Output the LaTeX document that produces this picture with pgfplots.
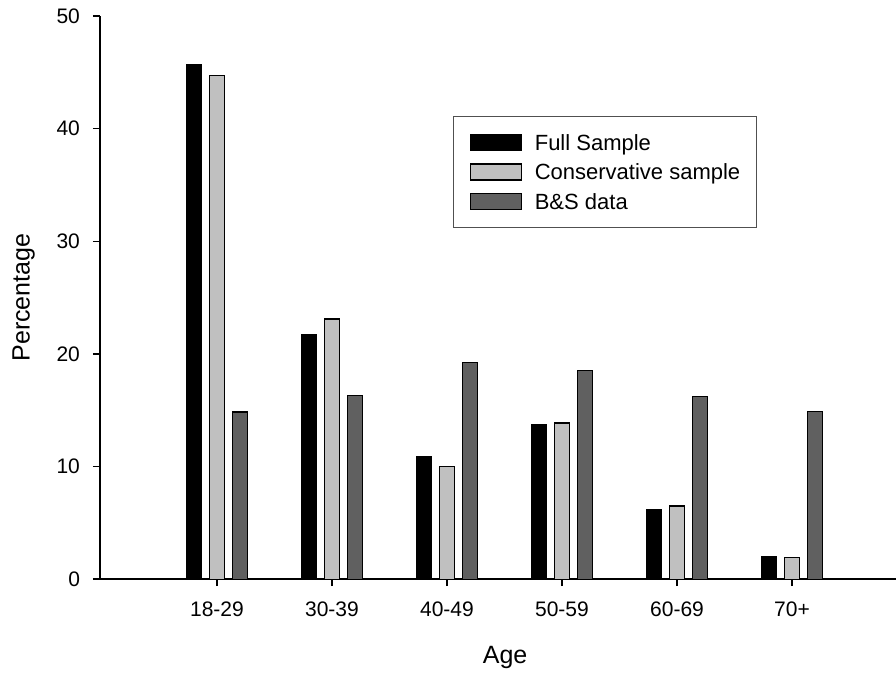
\documentclass[border=0pt]{standalone}
\usepackage{pgfplots}
\pgfplotsset{compat=1.18}
\usepackage{fontspec}
\setmainfont{Liberation Sans}
\definecolor{lgray}{RGB}{192,192,192}
\definecolor{dgray}{RGB}{96,96,96}
\definecolor{lgborder}{RGB}{80,80,80}
\begin{document}
\begin{tikzpicture}
\begin{axis}[
  scale only axis, width=398pt, height=281.6pt,
  xmin=-1.017, xmax=5.904, ymin=0, ymax=50,
  axis x line*=bottom, axis y line*=left,
  axis line style={-, line width=0.75pt, black},
  tick style={line width=0.75pt, black},
  tick align=outside, major tick length=3.5pt,
  xtick={0,1,2,3,4,5},
  xticklabels={18-29,30-39,40-49,50-59,60-69,70+},
  ytick={0,10,20,30,40,50},
  /pgf/number format/assume math mode=true,
  ticklabel style={font=\fontsize{10.5}{12}\selectfont},
  yticklabel style={xshift=-3pt},
  xticklabel style={yshift=-4.5pt},
  xlabel={Age}, ylabel={Percentage},
  label style={font=\fontsize{12.5}{15}\selectfont},
  xlabel style={at={(axis description cs:0.509,0)}, anchor=center, yshift=-39pt},
  ylabel style={at={(axis description cs:-0.096,0.5)}, anchor=center},
  ybar, bar width=7.5pt,
  legend image code/.code={\draw[#1] (0pt,-4pt) rectangle (25.5pt,4pt);},
  legend style={at={(rel axis cs:0.4435,0.8224)}, anchor=north west,
    draw=lgborder, line width=0.6pt, inner xsep=8pt, inner ysep=8.75pt,
    row sep=6pt, font=\fontsize{11}{13}\selectfont,
    nodes={inner sep=0pt, text height=8pt, text depth=0pt},
    cells={anchor=west},
    /tikz/every odd column/.append style={column sep=6.5pt}},
]
\addplot[bar shift=-11.5pt, fill=black, draw=black, line width=0.6pt]
  coordinates {(0,45.7) (1,21.7) (2,10.9) (3,13.7) (4,6.2) (5,2.0)};
\addplot[bar shift=0pt, fill=lgray, draw=black, line width=0.6pt]
  coordinates {(0,44.7) (1,23.1) (2,10.0) (3,13.87) (4,6.5) (5,1.93)};
\addplot[bar shift=11.5pt, fill=dgray, draw=black, line width=0.6pt]
  coordinates {(0,14.85) (1,16.3) (2,19.26) (3,18.52) (4,16.2) (5,14.9)};
\legend{Full Sample, Conservative sample\hspace{3.5pt}, B\&S data}
\end{axis}
\pgfresetboundingbox
\useasboundingbox (-50pt,-47.9pt) rectangle (398pt,289.6pt);
\end{tikzpicture}
\end{document}
